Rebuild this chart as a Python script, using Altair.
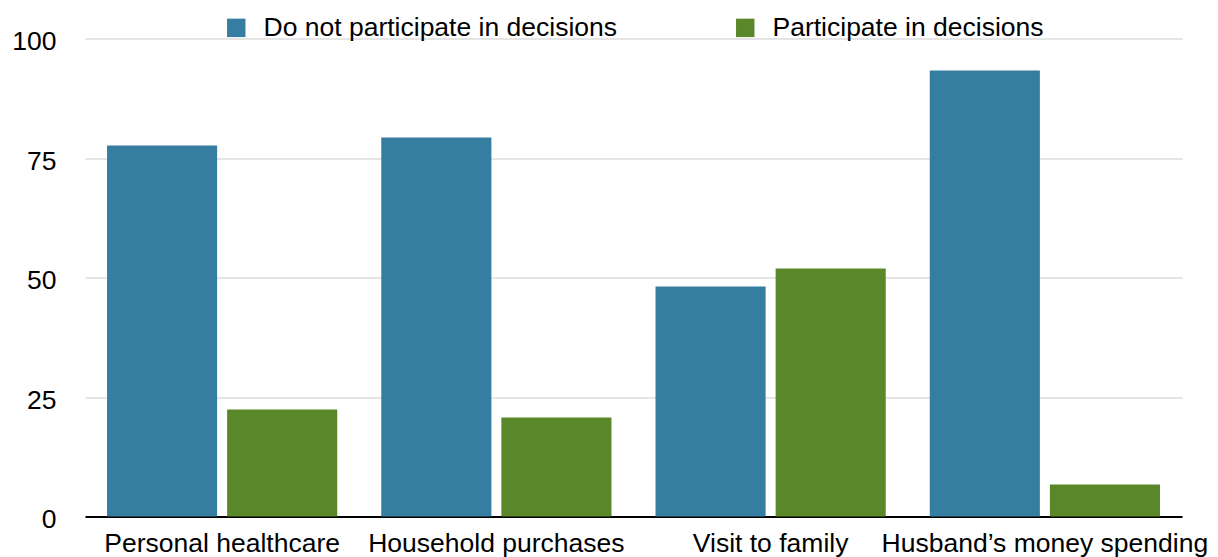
import altair as alt
import pandas as pd

categories = ["Personal healthcare", "Household purchases", "Visit to family", "Husband’s money spending"]
series = ["Do not participate in decisions", "Participate in decisions"]
not_participate = [77.6, 79.3, 48.1, 93.3]
participate = [22.4, 20.7, 51.9, 6.7]
colors = ["#367EA1", "#5A872A"]

rows = []
for c, a, b in zip(categories, not_participate, participate):
    rows.append({"category": c, "series": series[0], "value": a})
    rows.append({"category": c, "series": series[1], "value": b})
df = pd.DataFrame(rows)

FONT = "Liberation Sans"
FS = 26.5

chart = alt.Chart(df).mark_bar().encode(
    x=alt.X("category:N", sort=categories, title=None,
            scale=alt.Scale(paddingInner=0, paddingOuter=0),
            axis=alt.Axis(labelAngle=0, ticks=False, domainColor="#000000", domainWidth=2,
                          labelFontSize=FS, labelFont=FONT, labelColor="#000000",
                          labelPadding=14, labelLimit=0, grid=False)),
    xOffset=alt.XOffset("series:N", sort=series,
                        scale=alt.Scale(paddingInner=0.0833, paddingOuter=0.1833)),
    y=alt.Y("value:Q", title=None,
            scale=alt.Scale(domain=[0, 100], nice=False),
            axis=alt.Axis(values=[0, 25, 50, 75, 100], ticks=False, domain=False,
                          gridColor="#CCCCCC", gridWidth=1.2,
                          labelFontSize=FS, labelFont=FONT, labelColor="#000000",
                          labelPadding=29, labelOffset=3)),
    color=alt.Color("series:N", sort=series,
                    scale=alt.Scale(domain=series, range=colors),
                    legend=alt.Legend(title=None, orient="none", direction="horizontal",
                                      legendX=138, legendY=-24,
                                      symbolType="square", symbolSize=340,
                                      symbolStrokeWidth=0,
                                      labelFontSize=FS, labelFont=FONT, labelColor="#000000",
                                      labelOffset=14, columnPadding=114, padding=0,
                                      labelLimit=0)),
).properties(
    width=1097, height=478,
    background="#FFFFFF",
    autosize=alt.AutoSizeParams(type="none"),
    padding={"left": 85, "top": 38.5, "right": 36, "bottom": 40.5},
).configure_view(stroke=None)

chart.save("out.html", embed_options={"renderer": "svg", "actions": False})
